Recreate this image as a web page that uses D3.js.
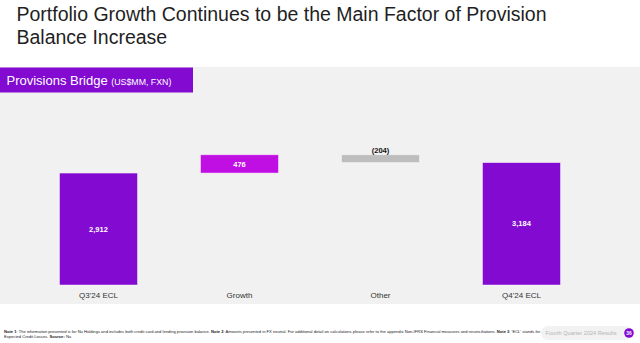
<!DOCTYPE html>
<html>
<head>
<meta charset="utf-8">
<script src="https://cdn.jsdelivr.net/npm/d3@7"></script>
<style>
  html, body { margin: 0; padding: 0; background: #ffffff; }
  svg { display: block; }
</style>
</head>
<body>
<svg id="chart" width="640" height="343"></svg>
<script>
// ---- Data ----
const categories = ["Q3'24 ECL", "Growth", "Other", "Q4'24 ECL"];
const values = [2912, 476, -204, 3184];
const kinds = ["total", "delta", "delta", "total"];
const valueLabels = ["2,912", "476", "(204)", "3,184"];

const titleLines = ["Portfolio Growth Continues to be the Main Factor of Provision", "Balance Increase"];
const panelTitle = "Provisions Bridge";
const panelUnit = "(US$MM, FXN)";
const footLine1 = [
  ["Note 1", true], [": The information presented is for Nu Holdings and includes both credit card and lending provision balance. ", false],
  ["Note 2", true], [": Amounts presented in FX neutral. For additional detail on calculations please refer to the appendix Non-IFRS Financial measures and reconciliations. ", false],
  ["Note 3", true], [": 'ECL' stands for", false]
];
const footLine2 = [["Expected Credit Losses. ", false], ["Source:", true], [" Nu.", false]];
const badgeText = "Fourth Quarter 2024 Results";
const pageNum = "36";

// ---- Build waterfall ----
let running = 0;
const bars = categories.map((c, i) => {
  let y0, y1;
  if (kinds[i] === "total") { y0 = 0; y1 = values[i]; running = values[i]; }
  else { y0 = running; y1 = running + values[i]; running = y1; }
  return { cat: c, lo: Math.min(y0, y1), hi: Math.max(y0, y1), kind: kinds[i], v: values[i], label: valueLabels[i] };
});

const svg = d3.select("#chart");
const FONT = "'Liberation Sans', Arial, sans-serif";

// Title
svg.append("g").selectAll("text").data(titleLines).join("text")
  .attr("x", 16.5).attr("y", (d, i) => 21 + i * 22.5)
  .attr("font-family", FONT).attr("font-size", 19.5).attr("fill", "#1f1f1f")
  .text(d => d);

// Panel background
svg.append("rect").attr("x", 0).attr("y", 67).attr("width", 640).attr("height", 237).attr("fill", "#f1f1f1");

// Panel header
svg.append("rect").attr("x", 0).attr("y", 67.5).attr("width", 193).attr("height", 25).attr("fill", "#820ad1");
const ph = svg.append("text").attr("x", 6.5).attr("y", 84.5).attr("font-family", FONT).attr("fill", "#ffffff");
ph.append("tspan").attr("font-size", 13).text(panelTitle + " ");
ph.append("tspan").attr("font-size", 8.8).text(panelUnit);

// Scales
const x = d3.scaleBand().domain(categories).range([28, 592]).paddingInner(0.447).paddingOuter(0.2235);
const y = d3.scaleLinear().domain([0, 3184]).range([285, 162.6]);

const colorFor = (d) => d.kind === "total" ? "#820ad1" : (d.v >= 0 ? "#c00fe3" : "#bdbdbd");

const g = svg.append("g");
g.selectAll("rect.bar").data(bars).join("rect").attr("class", "bar")
  .attr("x", d => x(d.cat)).attr("width", x.bandwidth())
  .attr("y", d => y(d.hi)).attr("height", d => y(d.lo) - y(d.hi))
  .attr("fill", colorFor)
  .attr("stroke", "#ffffff").attr("stroke-opacity", 0.55).attr("stroke-width", 0.8);

// Value labels
g.selectAll("text.val").data(bars).join("text").attr("class", "val")
  .attr("x", d => x(d.cat) + x.bandwidth() / 2)
  .attr("y", d => d.v < 0 ? y(d.hi) - 2 : (y(d.hi) + y(d.lo)) / 2 + 2.6)
  .attr("text-anchor", "middle").attr("font-family", FONT).attr("font-weight", "bold").attr("font-size", 7.5)
  .attr("fill", d => d.v < 0 ? "#111111" : "#ffffff")
  .text(d => d.label);

// Category axis labels
const xAxis = d3.axisBottom(x).tickSize(0).tickPadding(0);
const ax = svg.append("g").attr("transform", "translate(0,295)").call(xAxis);
ax.select(".domain").remove();
ax.selectAll("text").attr("font-family", FONT).attr("font-size", 8).attr("fill", "#333333").attr("dy", "0.35em").attr("y", 0);

// Footnotes
const f1 = svg.append("text").attr("x", 4).attr("y", 333).attr("font-family", FONT).attr("font-size", 4.1).attr("fill", "#222");
footLine1.forEach(([t, b]) => f1.append("tspan").attr("font-weight", b ? "bold" : "normal").text(t));
const f2 = svg.append("text").attr("x", 4).attr("y", 338).attr("font-family", FONT).attr("font-size", 4.1).attr("fill", "#222");
footLine2.forEach(([t, b]) => f2.append("tspan").attr("font-weight", b ? "bold" : "normal").text(t));

// Badge
svg.append("rect").attr("x", 541).attr("y", 326).attr("width", 92).attr("height", 14).attr("rx", 7).attr("fill", "#f2f2f2");
svg.append("text").attr("x", 581).attr("y", 335).attr("text-anchor", "middle").attr("font-family", FONT).attr("font-size", 5.6).attr("fill", "#b5b5b5").text(badgeText);
svg.append("circle").attr("cx", 629).attr("cy", 333).attr("r", 4.8).attr("fill", "#820ad1");
svg.append("text").attr("x", 629).attr("y", 334.8).attr("text-anchor", "middle").attr("font-family", FONT).attr("font-weight", "bold").attr("font-size", 4.8).attr("fill", "#fff").text(pageNum);
</script>
</body>
</html>
